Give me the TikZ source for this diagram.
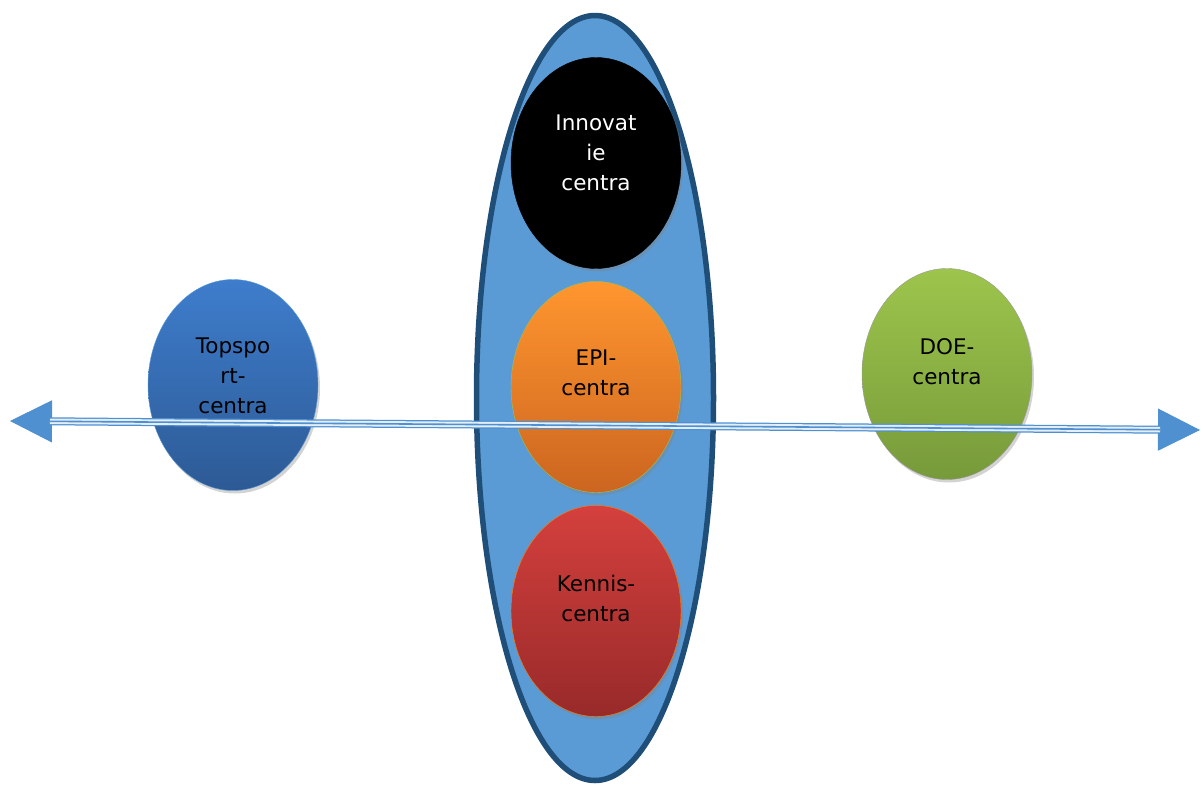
\documentclass[tikz,border=0pt]{standalone}
\usepackage{fontspec}
\setmainfont{DejaVu Sans}
\usetikzlibrary{arrows.meta,shapes.geometric,shadows}

\definecolor{clusterfill}{HTML}{5B9BD5}
\definecolor{clusterline}{HTML}{1F4E79}
\definecolor{axisblue}{HTML}{4F90D0}
\definecolor{sporttop}{HTML}{3E7DCC}
\definecolor{sportbot}{HTML}{2D5A95}
\definecolor{doetop}{HTML}{9DC54C}
\definecolor{doebot}{HTML}{779A3A}
\definecolor{epitop}{HTML}{FF962F}
\definecolor{epibot}{HTML}{CC6520}
\definecolor{kennistop}{HTML}{D4403D}
\definecolor{kennisbot}{HTML}{982A2A}

\begin{document}
\begin{tikzpicture}[x=1pt,y=-1pt, line join=round,
    centrum/.style={ellipse, minimum width=170, minimum height=211, inner sep=0pt,
      drop shadow={shadow xshift=2pt, shadow yshift=-3pt, opacity=0.35}},
    lbl/.style={align=center, font=\fontsize{21.5}{30}\selectfont}]
  \useasboundingbox (0,0) rectangle (1203,785);
  % Cluster ellipse in the middle
  \draw[line width=5.5pt, draw=clusterline, fill=clusterfill] (595,398) ellipse [x radius=118.5, y radius=382.5];
  % Centres
  \node[centrum, draw=black, fill=black] (innov) at (596,163) {};
  \node[centrum, draw=doetop, top color=epitop, bottom color=epibot] (epi) at (596,387) {};
  \node[centrum, draw=orange, top color=kennistop, bottom color=kennisbot] (kennis) at (596,611) {};
  \node[centrum, draw=clusterfill, top color=sporttop, bottom color=sportbot] (topsport) at (233,385) {};
  \node[centrum, draw=gray!80, top color=doetop, bottom color=doebot] (doe) at (947,374) {};
  % Labels
  \node[lbl, text=white] (innovtxt) at ([yshift=10]innov) {Innovat\\ie\\centra};
  \node[lbl] (epitxt) at ([yshift=14]epi) {EPI-\\centra};
  \node[lbl] (kennistxt) at ([yshift=13]kennis) {Kennis-\\centra};
  \node[lbl] (topsporttxt) at ([yshift=9]topsport) {Topspo\\rt-\\centra};
  \node[lbl] (doetxt) at ([yshift=12]doe) {DOE-\\centra};
  % Axis with two heads
  \coordinate (lefttip) at (10,421);
  \coordinate (righttip) at (1200,430);
  \draw[axisblue, line width=1pt, {Triangle[length=42pt,width=42pt]}-{Triangle[length=42pt,width=42pt]}] (lefttip) -- (righttip);
  \draw[axisblue, line width=8pt, shorten <=40pt, shorten >=40pt] (lefttip) -- (righttip);
  \draw[white!85!axisblue, line width=5.5pt, shorten <=40pt, shorten >=40pt] (lefttip) -- (righttip);
  \draw[axisblue, line width=1.6pt, shorten <=40pt, shorten >=40pt] (lefttip) -- (righttip);
\end{tikzpicture}
\end{document}
